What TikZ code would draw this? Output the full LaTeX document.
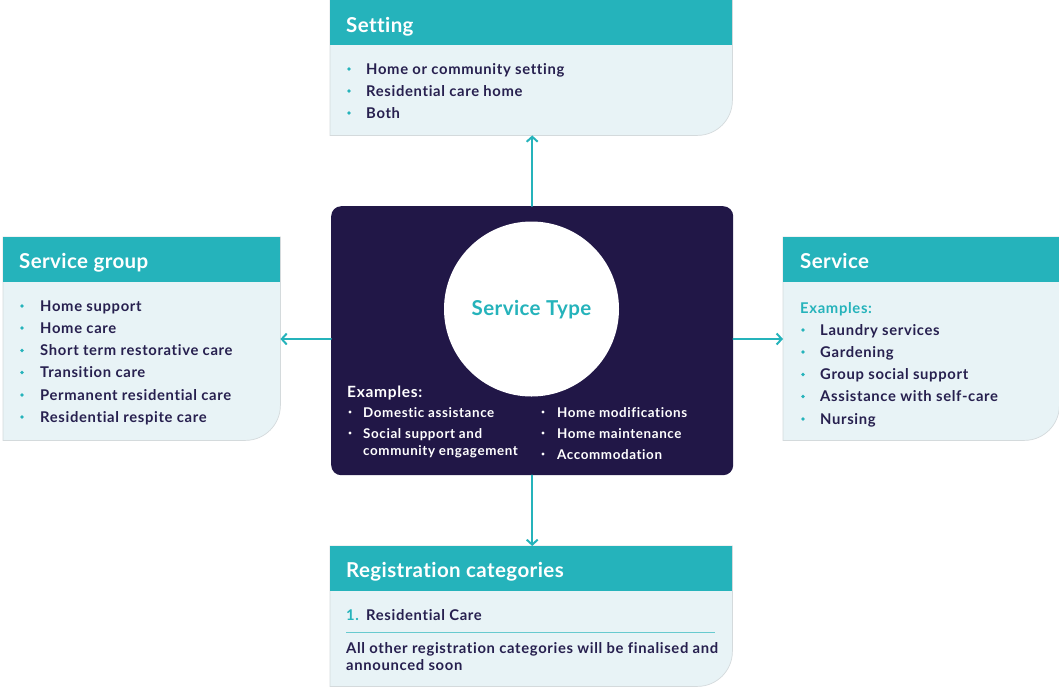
\documentclass[tikz,border=0pt]{standalone}
\usepackage{fontspec}
\setmainfont{Lato}[LetterSpace=4.5, Ligatures=NoCommon]
\newfontfamily\titlefont{Lato}[LetterSpace=2, Ligatures=NoCommon]
\usetikzlibrary{arrows.meta}
\definecolor{tealc}{HTML}{25B3BB}
\definecolor{bodyc}{HTML}{E8F3F6}
\definecolor{navyc}{HTML}{211747}
\definecolor{textc}{HTML}{27204F}
\definecolor{edgec}{HTML}{D4DADC}
\tikzset{
  item/.style={anchor=base west, inner sep=0, text=textc, font=\bfseries\fontsize{14.8}{17}\selectfont},
  citem/.style={anchor=base west, inner sep=0, text=white, font=\bfseries\fontsize{13.4}{16}\selectfont},
  title/.style={anchor=base west, inner sep=0, text=white, font=\titlefont\bfseries\fontsize{20.5}{24}\selectfont},
  boxarea/.style={anchor=north west, inner sep=0, draw=none},
  arr/.style={draw=tealc, line width=2pt, line cap=round, -{Straight Barb[length=5pt,width=11pt,line width=2pt]}},
}
\newcommand{\bitem}[5]{\fill[tealc] (#1,#3-5) circle (1.9); \node[item] (#4) at (#2,#3) {#5};}
\newcommand{\citm}[5]{\fill[white] (#1,#3-5) circle (1.6); \node[citem] (#4) at (#2,#3) {#5};}
\newcommand{\panel}[1]{%
  \fill[bodyc, draw=edgec, line width=0.7pt] (#1.north west) -- (#1.north east) [rounded corners=35pt] -- (#1.south east) [sharp corners] -- (#1.south west) -- cycle;
  \fill[tealc] (#1.north west) rectangle ([yshift=-45pt]#1.north east);}
\begin{document}
\begin{tikzpicture}[x=1pt,y=-1pt]
\useasboundingbox (0,0) rectangle (1059,686);
% box areas
\node[boxarea, minimum width=402pt, minimum height=135pt] (setting) at (330,0) {};
\node[boxarea, minimum width=277pt, minimum height=203pt] (sgroup) at (3,237) {};
\node[boxarea, minimum width=276pt, minimum height=203pt] (service) at (783,237) {};
\node[boxarea, minimum width=402pt, minimum height=140pt] (reg) at (330,546) {};
\panel{setting}
\panel{sgroup}
\panel{service}
\panel{reg}
% core
\node[boxarea, fill=navyc, rounded corners=10pt, minimum width=402pt, minimum height=269pt] (core) at (331,206) {};
\node[circle, fill=white, inner sep=0, minimum size=175pt] (circ) at (531.5,309) {};
\node[anchor=base, inner sep=0, text=tealc, font=\titlefont\bfseries\fontsize{20.5}{24}\selectfont] (stype) at (531.5,315) {Service Type};
\coordinate (mid) at (531,339);
% arrows
\draw[arr] (core.north) -- (core.north |- setting.south);
\draw[arr] (core.south) -- (core.south |- reg.north);
\draw[arr] (core.west |- mid) -- (sgroup.east |- mid);
\draw[arr] (core.east |- mid) -- (service.west |- mid);
% Setting
\node[title] (t1) at (346,32) {Setting};
\bitem{349}{366}{74}{a1}{Home or community setting}
\bitem{349}{366}{96}{a2}{Residential care home}
\bitem{349}{366}{118}{a3}{Both}
% Service group
\node[title] (t2) at (19,268) {Service group};
\bitem{22}{40}{311}{b1}{Home support}
\bitem{22}{40}{333}{b2}{Home care}
\bitem{22}{40}{355.5}{b3}{Short term restorative care}
\bitem{22}{40}{377.5}{b4}{Transition care}
\bitem{22}{40}{400}{b5}{Permanent residential care}
\bitem{22}{40}{422}{b6}{Residential respite care}
% Service
\node[title] (t3) at (800,268) {Service};
\node[item, text=tealc] (ex2) at (800,313) {Examples:};
\bitem{803}{820}{335}{c1}{Laundry services}
\bitem{803}{820}{357}{c2}{Gardening}
\bitem{803}{820}{379.5}{c3}{Group social support}
\bitem{803}{820}{401.5}{c4}{Assistance with self-care}
\bitem{803}{820}{424}{c5}{Nursing}
% Core examples
\node[anchor=base west, inner sep=0, text=white, font=\bfseries\fontsize{15.5}{18}\selectfont] (ex1) at (347,397) {Examples:};
\citm{350}{363}{417}{d1}{Domestic assistance}
\citm{350}{363}{438}{d2}{Social support and}
\node[citem] (d3) at (363,455) {community engagement};
\citm{543}{557}{417}{e1}{Home modifications}
\citm{543}{557}{438}{e2}{Home maintenance}
\citm{543}{557}{459}{e3}{Accommodation}
% Registration
\node[title] (t4) at (346,577) {Registration categories};
\node[item, text=tealc] (n1) at (346,620) {1.};
\node[item] (r1) at (366,620) {Residential Care};
\draw[tealc!70, line width=0.8pt] ([xshift=16pt]reg.west |- 0,632) coordinate (ls) -- ([xshift=-17pt]reg.east |- 0,632) coordinate (le);
\node[item] (r2) at (346,653) {All other registration categories will be finalised and};
\node[item] (r3) at (346,670) {announced soon};
\end{tikzpicture}
\end{document}
